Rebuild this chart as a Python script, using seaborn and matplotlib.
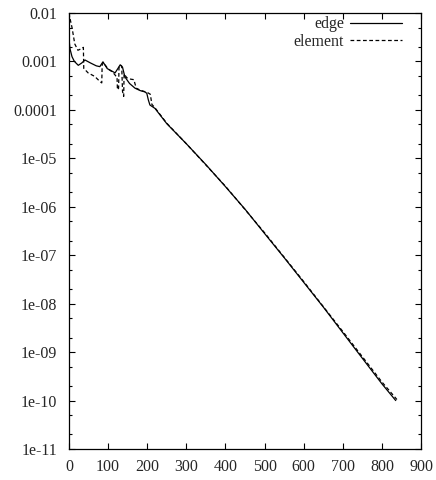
import numpy as np
import pandas as pd
import seaborn as sns
import matplotlib
matplotlib.use("Agg")
import matplotlib.pyplot as plt
from matplotlib import ticker

# residual history
edge_x = [0, 3, 8, 14, 24, 33, 41, 55, 70, 79, 87, 98, 110, 118, 125, 131, 137, 143,
          155, 169, 182, 194, 199, 203, 207, 220, 250, 300, 350, 400, 450, 500, 550,
          600, 650, 700, 750, 800, 835]
edge_y = [3.0e-3, 1.8e-3, 1.25e-3, 1.0e-3, 8.3e-4, 9.3e-4, 1.07e-3, 9.3e-4, 8.1e-4,
          7.8e-4, 9.8e-4, 7.1e-4, 6.3e-4, 5.8e-4, 7.1e-4, 8.5e-4, 7.6e-4, 4.8e-4,
          3.5e-4, 2.8e-4, 2.5e-4, 2.35e-4, 2.2e-4, 1.6e-4, 1.26e-4, 1.07e-4, 5.2e-5,
          2.0e-5, 7.4e-6, 2.6e-6, 8.9e-7, 2.8e-7, 8.9e-8, 2.75e-8, 8.5e-9, 2.5e-9,
          7.4e-10, 2.2e-10, 1.0e-10]

element_x = [0, 4, 8, 15, 23, 30, 37, 38, 49, 66, 80, 84, 85, 88, 100, 112, 120, 123,
             124, 127, 128, 131, 135, 137, 140, 141, 148, 158, 166, 172, 185, 200, 208,
             212, 220, 250, 300, 400, 500, 600, 700, 800, 838]
element_y = [1.0e-2, 7.0e-3, 5.0e-3, 2.3e-3, 1.7e-3, 1.8e-3, 1.95e-3, 7.2e-4, 5.8e-4,
             4.9e-4, 3.8e-4, 3.6e-4, 8.5e-4, 9.5e-4, 7.0e-4, 6.0e-4, 5.0e-4, 4.8e-4,
             2.6e-4, 2.8e-4, 7.5e-4, 8.5e-4, 8.0e-4, 2.4e-4, 1.9e-4, 5.5e-4, 4.6e-4,
             4.3e-4, 4.2e-4, 2.8e-4, 2.5e-4, 2.3e-4, 2.1e-4, 1.3e-4, 1.1e-4, 5.3e-5,
             2.0e-5, 2.65e-6, 2.9e-7, 2.85e-8, 2.65e-9, 2.4e-10, 1.05e-10]

x_ticks = [0, 100, 200, 300, 400, 500, 600, 700, 800, 900]
y_ticks = [1e-2, 1e-3, 1e-4, 1e-5, 1e-6, 1e-7, 1e-8, 1e-9, 1e-10, 1e-11]
y_labels = ["0.01", "0.001", "0.0001", "1e-05", "1e-06", "1e-07", "1e-08",
            "1e-09", "1e-10", "1e-11"]

edge = pd.DataFrame({"x": edge_x, "y": edge_y})
element = pd.DataFrame({"x": element_x, "y": element_y})

sns.set_style("ticks")
plt.rcParams["font.family"] = ["Liberation Serif", "DejaVu Serif"]
fs = 11.5

fig = plt.figure(figsize=(4.36, 4.80), dpi=100)
ax = fig.add_axes([0.158, 0.0646, 0.808, 0.9084])

sns.lineplot(data=edge, x="x", y="y", ax=ax, color="black", lw=0.9,
             estimator=None, sort=False, label="edge")
sns.lineplot(data=element, x="x", y="y", ax=ax, color="black", lw=0.9,
             linestyle=(0, (3, 2)), estimator=None, sort=False, label="element")

ax.set_yscale("log")
ax.set_xlim(0, 900)
ax.set_ylim(1e-11, 1e-2)
ax.xaxis.set_major_locator(ticker.FixedLocator(x_ticks))
ax.yaxis.set_major_locator(ticker.FixedLocator(y_ticks))
ax.yaxis.set_major_formatter(ticker.FixedFormatter(y_labels))
ax.yaxis.set_minor_locator(ticker.LogLocator(base=10, subs=(2.0, 5.0), numticks=20))
ax.yaxis.set_minor_formatter(ticker.NullFormatter())
ax.tick_params(which="both", direction="in", top=True, right=True,
               labelsize=fs, color="black", width=0.8)
ax.tick_params(which="major", length=4)
ax.tick_params(which="minor", length=2.2)
ax.tick_params(axis="x", which="major", pad=7.5)
ax.tick_params(axis="y", which="major", pad=8.5)
ax.set_xlabel("")
ax.set_ylabel("")
for s in ax.spines.values():
    s.set_linewidth(0.9)
    s.set_color("black")

ax.legend(loc="upper right", bbox_to_anchor=(0.955, 1.0), frameon=False,
          markerfirst=False, handlelength=3.25, fontsize=fs, borderaxespad=0,
          borderpad=0.2, labelspacing=0.12, handletextpad=0.4)

fig.savefig("out.png", dpi=100)
